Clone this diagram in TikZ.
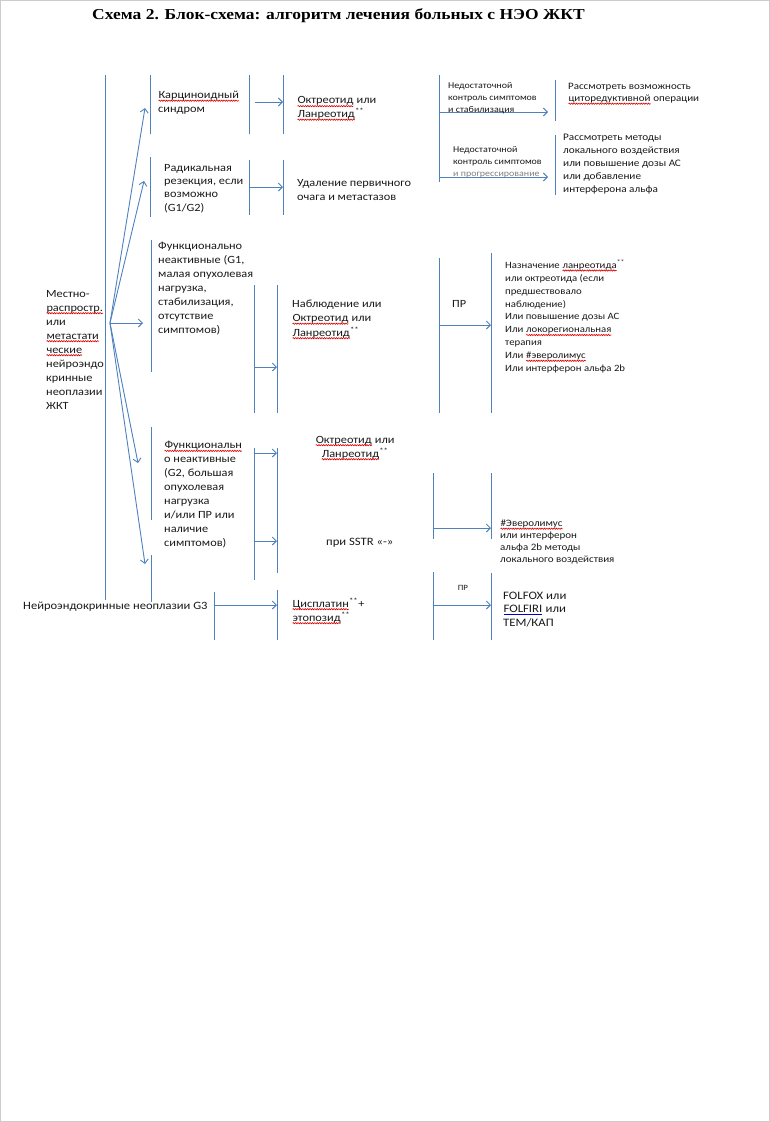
\documentclass[tikz,border=0pt]{standalone}
\usepackage{fontspec}
\setmainfont[FakeStretch=1.12]{Carlito}
\newfontfamily\titlefont[FakeStretch=1.15]{Liberation Serif}
\usetikzlibrary{arrows.meta,decorations.pathmorphing}
\definecolor{ln}{RGB}{79,129,189}
\definecolor{tx}{RGB}{25,25,25}
\newcommand\rw[1]{\tikz[baseline=(rwn.base)]{\node[inner sep=0pt,outer sep=0pt] (rwn) {#1};\draw[red!90!black, line width=0.65pt, decorate, decoration={snake, amplitude=0.6pt, segment length=2.4pt}] ([yshift=-2.2pt]rwn.base west) -- ([yshift=-2.2pt]rwn.base east);}}
\newcommand\bu[1]{\tikz[baseline=(bun.base)]{\node[inner sep=0pt,outer sep=0pt] (bun) {#1};\draw[blue!80!black, line width=0.7pt] ([yshift=-2.2pt]bun.base west) -- ([yshift=-2.2pt]bun.base east);}}
\newcommand\sst{\textsuperscript{**}}
\tikzset{
  bar/.style={draw=ln, line width=1pt},
  arr/.style={draw=ln, line width=0.9pt, -{Straight Barb[length=4pt,width=8pt]}},
  txt/.style={inner sep=0pt, text=tx, align=left, anchor=base west, font=\fontsize{11}{14}\selectfont},
}
\begin{document}
\begin{tikzpicture}[x=1pt,y=-1pt]
\useasboundingbox (0,0) rectangle (770,1122);
\draw[gray!40, line width=1pt] (0.5,0.5) rectangle (769.5,1121.5);
% title
\node[inner sep=0pt, anchor=base west, font=\titlefont\bfseries\fontsize{15.2}{18}\selectfont] (title) at (92,19.5) {Схема 2. Блок-схема: алгоритм лечения больных с НЭО ЖКТ};
% bars
\draw[bar] (105,75) -- (105,600);
\draw[bar] (150,75) -- (150,134);
\draw[bar] (249,75) -- (249,134);
\draw[bar] (283,75) -- (283,134);
\draw[bar] (439,75) -- (439,182);
\draw[bar] (555,80) -- (555,121);
\draw[bar] (555,135) -- (555,195);
\draw[bar] (150,157) -- (150,217);
\draw[bar] (249,160) -- (249,215);
\draw[bar] (283,160) -- (283,215);
\draw[bar] (151,240) -- (151,372);
\draw[bar] (254,285) -- (254,413);
\draw[bar] (277,285) -- (277,413);
\draw[bar] (439,258) -- (439,413);
\draw[bar] (491,253) -- (491,413);
\draw[bar] (151,427) -- (151,520);
\draw[bar] (151,555) -- (151,602);
\draw[bar] (254,448) -- (254,580);
\draw[bar] (277,448) -- (277,573);
\draw[bar] (433,473) -- (433,539);
\draw[bar] (491,473) -- (491,539);
\draw[bar] (214,592) -- (214,640);
\draw[bar] (277,590) -- (277,640);
\draw[bar] (433,572) -- (433,640);
\draw[bar] (491,573) -- (491,640);
% arrow end points
\coordinate (o) at (110,323);
\coordinate (f1) at (145,108);
\coordinate (f2) at (144,181);
\coordinate (f3) at (143,323);
\coordinate (f4) at (138,463);
\coordinate (f5) at (145,564);
\coordinate (a1s) at (255,102); \coordinate (a1e) at (283,102);
\coordinate (a2s) at (249,187); \coordinate (a2e) at (283,187);
\coordinate (a3s) at (439,112); \coordinate (a3e) at (548,112);
\coordinate (a4s) at (439,177); \coordinate (a4e) at (548,177);
\coordinate (a5s) at (254,367); \coordinate (a5e) at (277,367);
\coordinate (a6s) at (439,325); \coordinate (a6e) at (491,325);
\coordinate (a7s) at (254,453); \coordinate (a7e) at (277,453);
\coordinate (a8s) at (254,541); \coordinate (a8e) at (277,541);
\coordinate (a9s) at (433,528); \coordinate (a9e) at (491,528);
\coordinate (a10s) at (214,605); \coordinate (a10e) at (277,605);
\coordinate (a11s) at (433,605); \coordinate (a11e) at (491,605);
\foreach \t in {f1,f2,f3,f4,f5} \draw[arr] (o) -- (\t);
\foreach \i in {1,...,11} \draw[arr] (a\i s) -- (a\i e);
% texts (anchor = baseline of the last line)
\node[txt] (carc) at (158,112.5) {\rw{Карциноидный}\\синдром};
\node[txt, font=\fontsize{11}{11.7}\selectfont] (oct1) at (297,117.5) {\rw{Октреотид} или\\\rw{Ланреотид}\sst};
\node[txt, font=\fontsize{11}{13.3}\selectfont] (rad) at (164,211) {Радикальная\\резекция, если\\возможно\\(G1/G2)};
\node[txt] (udal) at (297,200) {Удаление первичного\\очага и метастазов};
\node[txt, font=\fontsize{8.9}{12}\selectfont] (ned1) at (448,112) {Недостаточной\\контроль симптомов\\и стабилизация};
\node[txt, font=\fontsize{9.8}{12}\selectfont] (ras1) at (568,101.5) {Рассмотреть возможность\\\rw{циторедуктивной} операции};
\node[txt, font=\fontsize{8.9}{12}\selectfont] (ned2) at (453,176) {Недостаточной\\контроль симптомов\\{\color{gray}и прогрессирование}};
\node[txt, font=\fontsize{10}{13}\selectfont] (ras2) at (563,192.5) {Рассмотреть методы\\локального воздействия\\или повышение дозы АС\\или добавление\\интерферона альфа};
\node[txt] (fun1) at (158,333) {Функционально\\неактивные (G1,\\малая опухолевая\\нагрузка,\\стабилизация,\\отсутствие\\симптомов)};
\node[txt, font=\fontsize{11}{14.5}\selectfont] (nabl) at (292,336) {Наблюдение или\\\rw{Октреотид} или\\\rw{Ланреотид}\sst};
\node[txt] (pr1) at (452,307) {ПР};
\node[txt, font=\fontsize{9.6}{12.9}\selectfont] (nazn) at (505,371.5) {Назначение \rw{ланреотида}\sst\\или октреотида (если\\предшествовало\\наблюдение)\\Или повышение дозы АС\\Или \rw{локорегиональная}\\терапия\\Или \rw{\#эверолимус}\\Или интерферон альфа 2b};
\node[txt] (mest) at (46,409) {Местно-\\\rw{распростр.}\\или\\\rw{метастати}\\\rw{ческие}\\нейроэндо\\кринные\\неоплазии\\ЖКТ};
\node[txt, font=\fontsize{11}{13.9}\selectfont] (fun2) at (164,546) {\rw{Функциональн}\\о неактивные\\(G2, большая\\опухолевая\\нагрузка\\и/или ПР или\\наличие\\симптомов)};
\node[txt, align=center, anchor=base, font=\fontsize{11}{14}\selectfont] (oct3) at (355,457) {\rw{Октреотид} или\\\rw{Ланреотид}\sst};
\node[txt, font=\fontsize{11.3}{14}\selectfont] (sstr) at (326,545) {при SSTR «-»};
\node[txt, font=\fontsize{9.8}{12}\selectfont] (ever) at (500,562.5) {\rw{\#Эверолимус}\\или интерферон\\альфа 2b методы\\локального воздействия};
\node[txt, font=\fontsize{8}{10}\selectfont, anchor=base] (pr2) at (463,590) {ПР};
\node[txt, font=\fontsize{11.4}{13.5}\selectfont] (folf) at (503,626) {FOLFOX или\\\bu{FOLFIRI} или\\ТЕМ/КАП};
\node[txt, font=\fontsize{11.2}{14}\selectfont] (g3) at (23,609) {Нейроэндокринные неоплазии G3};
\node[txt] (cisp) at (292,621) {\rw{Цисплатин}\sst+\\\rw{этопозид}\sst};
\end{tikzpicture}
\end{document}
